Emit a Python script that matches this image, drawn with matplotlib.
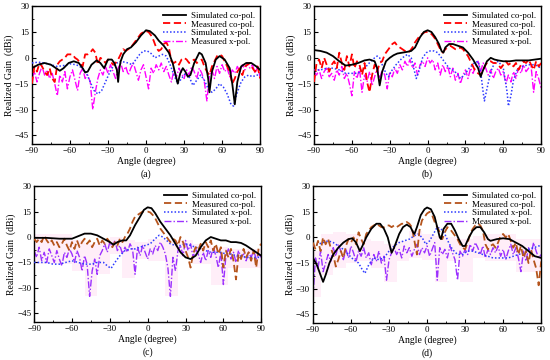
import numpy as np
import matplotlib
matplotlib.use('Agg')
import matplotlib.pyplot as plt
from matplotlib.ticker import MultipleLocator

plt.rcParams['font.family'] = ['Liberation Serif', 'DejaVu Serif']

# measured data sampled every 2 degrees
ang_m = list(range(-90, 91, 2))

# ---------------- panel (a) ----------------
a_sim_co_x = [-90, -85, -80, -75, -71, -68, -65, -61, -57, -53, -50, -48, -46, -43, -39, -36, -33, -30, -27, -25, -23, -22, -21, -20, -18, -15, -12, -8, -4, 0, 3, 7, 10, 14, 16, 18, 21, 23, 25, 27, 29, 31, 33, 35, 38, 42, 44, 47, 49, 50, 52, 55, 58, 62, 66, 68, 70, 72, 75, 79, 83, 87, 90]
a_sim_co_y = [-6, -4, -3, -4, -6, -7.5, -6, -3, -2, -3, -6, -8.5, -8, -4, -1.5, -3, -6, -1, -1, -3, -7, -14, -6, -2, 2, 5, 6, 9, 13, 16, 15.5, 13, 10, 7, 5, 3, -3, -9, -15, -9, -6, -8, -11, -10, -3, 3, 2, -3, -12, -20, -8, -1, 1, -1, -6, -15, -27, -14, -5, -3, -3, -5, -7]
a_meas_co = [-15, -5, -8, -3, -5, -8, -10, -6, -12, -14,
             -4, -2, -1, 0, 2, 2, 2, 0, -1, -3,
             -5, 2, 2, 3, 5, 3, -4, 0, -1, -3,
             -1, -2, -4, -3, -1, 2, 5, 4, 5, 6,
             8, 10, 12, 14, 15, 15.5, 15, 13, 10, 6,
             4, 5, 8, 9, 6, -2, -3, -2, -4, -1,
             0, -1, -3, -2, -1, -3, -2, -1, -5, -8,
             -10, -5, -2, 1, 2, 1, -2, -5, -8, -15,
             -12, -8, -6, -10, -5, -4, -3, -6, -8, -5,
             -12]
a_sim_x_x = [-90, -85, -80, -75, -70, -65, -60, -55, -50, -47, -44, -41, -38, -35, -32, -29, -26, -23, -20, -17, -14, -11, -8, -5, -2, 1, 4, 7, 10, 13, 16, 19, 22, 25, 28, 31, 34, 37, 40, 43, 46, 49, 52, 55, 58, 61, 64, 67, 69, 72, 75, 78, 81, 84, 87, 90]
a_sim_x_y = [-3, -2.5, -3, -4, -5, -4.5, -3.5, -4, -6, -9, -14, -19, -21, -19, -14, -9, -5, -3, -2, -2.5, -3, -4, -1, 2, 4, 4, 2.5, 0, 1, 2, 1, -4, -10, -15, -12, -9, -11, -16, -13, -10, -13, -18, -20, -18, -15, -17, -21, -27, -28, -20, -14, -11, -10, -11, -10, -10]
a_meas_x = [-12, -8, -14, -9, -5, -10, -7, -12, -9, -15, -22, -10, -14, -8, -18, -11, -7, -13, -19, -9, -6, -12, -10, -14, -30, -20, -12, -7, -10, -5, -9, -4, -8, -12, -6, -3, -8, -5, -10, -6, -3, -8, -13, -7, -4, -11, -18, -6, -9, -4, -7, -3, -8, -5, -10, -14, -7, -11, -6, -9, -12, -7, -10, -5, -8, -12, -6, -9, -14, -25, -10, -7, -12, -5, -9, -4, -8, -6, -11, -7, -9, -5, -8, -4, -7, -3, -6, -4, -9, -5, -11]

# ---------------- panel (b) ----------------
b_sim_co_x = [-90, -85, -80, -75, -70, -65, -60, -55, -50, -46, -42, -40, -38, -36, -33, -30, -27, -24, -20, -16, -13, -10, -6, -3, 0, 3, 6, 9, 11, 12.5, 14, 17, 20, 24, 28, 32, 36, 40, 42, 44, 47, 50, 53, 56, 60, 65, 70, 75, 80, 85, 90]
b_sim_co_y = [4.5, 4, 3, 1, -2, -4.5, -4, -3, -1.5, -1, -2, -6, -16, -8, -2, 0, 1.5, 2.5, 3, 3.5, 4, 6, 12, 15, 16, 15, 12, 8, 4, 3, 6, 8, 8, 7, 6, 3, -1, -6, -11, -7, -2, 0, -1, -1.5, -2, -2, -1.5, -1.5, -1.5, -1, -0.5]
b_meas_co = [-14, -3, -1, -6, 0, -4, -8, -4, -2, -6, 3, -3, -7, 1, -5, 2, -6, -2, -4, -10, -3, -14, -20, -10, -4, -8, -3, -2, 2, 4, 6, 8, 9, 7, 6, 5, 4, 3, 4, 6, 9, 11, 13, 14, 15, 15, 14.5, 13, 11, 8, 5, 3, 5, 6, 7, 6, 5, 5, 6, 5, 3, 1, -2, -5, -8, -9, -10, -7, -4, -2, -2, -3, -3, -4, -6, -4, -2, -4, -3, -5, -3, -7, -4, -2, -3, -1, -4, -7, -2, -5, -3]
b_sim_x_x = [-90, -85, -80, -75, -70, -65, -60, -55, -50, -45, -42, -40, -38, -36, -33, -31, -29, -25, -20, -16, -13, -11, -9, -7, -4, -1, 2, 5, 8, 11, 14, 17, 20, 23, 26, 29, 33, 37, 40, 42, 44, 45, 47, 50, 53, 56, 60, 63, 64, 66, 68, 71, 75, 80, 85, 90]
b_sim_x_y = [-7, -7, -6, -6, -7, -9, -9, -9, -6, -2, 0, 1, 0, -4, -9, -11, -8, -4, 0, 2, 0, -6, -12, -8, 0, 3, 4, 4, 3, 0, -3, -6, -7, -9, -12, -10, -6, -3, -2, -8, -20, -25, -18, -8, -3, -2, -6, -20, -28, -22, -13, -7, -5, -4, -4, -6]
b_meas_x = [-8, -10, -7, -12, -8, -6, -11, -9, -13, -7, -10, -5, -12, -9, -15, -22, -8, -12, -6, -20, -10, -14, -8, -16, -11, -6, -12, -7, -10, -18, -8, -11, -6, -9, -4, -7, -2, -5, -1, -6, -3, -10, -4, -2, -5, 0, -3, -1, -7, -3, -10, -4, -8, -5, -11, -6, -13, -9, -15, -10, -7, -12, -6, -9, -5, -2, -8, -3, -6, -10, -7, -12, -8, -6, -10, -8, -15, -10, -14, -8, -12, -6, -9, -4, -8, -6, -5, -20, -8, -12, -18]

# ---------------- panel (c) ----------------
c_sim_co_x = [-90, -80, -70, -60, -55, -50, -45, -40, -35, -30, -27, -24, -20, -17, -14, -10, -6, -3, 0, 3, 6, 10, 14, 18, 22, 26, 30, 34, 38, 42, 46, 50, 54, 58, 62, 66, 70, 74, 78, 82, 86, 90]
c_sim_co_y = [-0.5, -0.5, -1, -1, 0.5, 2, 2, 1, -1, -3, -4.5, -3, -2, -2, 1, 7, 12, 16, 17.5, 17, 14, 9, 5, 1, -4, -9, -12, -13, -11, -6, -2, 0, -1, -2, -2, -3, -3, -3.5, -5, -7, -9, -11]
c_meas_co = [-1, -3, -1, -3, 1, -2, -4, -2, -5, -3, -6, -4, -1, -5, -8, -3, -7, -2, -6, -3, -1, -4, -2, -6, -3, -1, -5, -2, -4, -1, -3, -6, -3, -5, -1, -3, 0, 2, 5, 9, 12, 13, 14, 15, 15, 15, 14.5, 13, 11, 8, 5, 3, 1, -1, -3, -1, -2, -5, 0, -3, -8, -12, -18, -10, -6, -8, -4, -8, -3, -6, -2, -8, -4, -10, -6, -18, -8, -12, -7, -14, -25, -10, -13, -7, -12, -9, -14, -8, -18, -6, -4]
c_sim_x_x = [-90, -85, -80, -75, -70, -65, -60, -55, -50, -45, -40, -35, -32, -29, -26, -22, -18, -14, -10, -6, -2, 2, 6, 9, 12, 15, 18, 22, 26, 30, 34, 38, 42, 46, 50, 54, 58, 62, 66, 70, 74, 78, 82, 86, 90]
c_sim_x_y = [-15, -15, -15, -16, -16, -15, -14, -15, -16, -16, -15, -15, -17, -18.5, -15, -11, -8, -7, -7, -6, -5, -4, -1, 1, 0, -2, -4, -5, -5, -4, -5, -6, -7, -8, -9, -9, -9, -10, -10, -11, -11, -12, -12, -12, -12]
c_meas_x = [-8, -12, -6, -14, -9, -15, -7, -11, -15, -8, -13, -17, -9, -12, -7, -10, -15, -8, -12, -20, -11, -16, -35, -20, -13, -22, -11, -8, -4, -9, -3, -6, -2, -8, -5, -10, -6, -9, -4, -7, -22, -6, -11, -5, -9, -13, -7, -10, -5, -8, -3, -6, -10, -18, -35, -12, -20, -8, -5, -11, -2, -8, -4, -12, -7, -10, -15, -9, -14, -8, -12, -6, -11, -18, -9, -28, -11, -7, -13, -9, -15, -8, -12, -10, -14, -9, -12, -8, -13, -10, -12]
# light pink wash behind measured x-pol: bin edges and limits
c_band_x = [-90, -60, -50, -40, -30, -20, -10, 0, 14, 24, 36, 50, 64, 80, 90]
c_band_lo = [-16, -20, -35, -22, -10, -24, -13, -14, -35, -12, -16, -28, -18, -18]
c_band_hi = [2, -2, -4, -3, 0, -2, -3, -1, -2, -2, -4, -6, -7, -7]

# ---------------- panel (d) ----------------
d_sim_co_x = [-90, -87, -84, -82, -80, -77, -74, -70, -66, -62, -59, -56, -53, -51, -48, -44, -40, -37, -34, -31, -29, -28, -26, -22, -19, -16, -13, -11, -10, -8, -5, -2, 0, 3, 6, 8, 10, 11, 13, 16, 19, 22, 25, 28, 30, 33, 36, 39, 42, 45, 48, 50, 55, 60, 65, 70, 75, 80, 85, 90]
d_sim_co_y = [-12, -16, -22, -26, -22, -15, -10, -6, -3, -1, -0.5, -3, -8, -5, 0, 5, 8, 8, 5, 0, -6, -9, -6, 2, 6, 7.5, 6, 3, 2, 6, 13, 16.5, 17.5, 16.5, 12, 6, 0, -1, 5, 8, 8, 4, -1, -5, -5, 0, 4, 6, 6, 3, -1, -2, -1, -0.5, -1, -3, -5, -8, -11, -12]
d_meas_co = [-3, -7, -2, -8, 0, -4, -1, -6, -10, -17, -13, -8, -12, -5, -1, -3, 0, -4, 3, -1, -4, 2, 4, 6, 7, 8, 7, 6, 6, 7, 7, 6, 7, 6, 7, 8, 8, 9, 8, 6, -2, -10, 4, 10, 12, 14, 15, 13, 9, 6, 3, -1, 3, 6, 5, 3, 1, -1, -4, -6, -7, -3, 2, 5, 7, 8, 7, 4, -4, -7, -5, -4, -6, -3, 1, 2, 0, 2, -2, -6, -3, -10, -5, -12, -8, -15, -7, -13, -18, -28, -14]
d_sim_x_x = [-90, -86, -82, -78, -74, -70, -66, -62, -58, -54, -51, -49, -46, -42, -38, -34, -30, -26, -22, -18, -14, -10, -7, -4, -1, 2, 5, 8, 11, 14, 17, 20, 24, 28, 32, 36, 40, 44, 48, 52, 56, 60, 64, 68, 72, 76, 80, 84, 88, 90]
d_sim_x_y = [-5, -4, -3, -2, -3, -5, -7, -10, -13, -15, -19, -21, -16, -12, -13, -12, -8, -5, -3, -2, -1, 1, 2, 0, -4, -2, 2, 6, 5, 2, -3, -7, -10, -10, -8, -8, -9, -10, -11, -12, -12, -12, -12, -11, -10, -9, -7, -6, -5, -5]
d_meas_x = [-35, -12, -18, -8, -20, -15, -10, -14, -6, -11, -4, -8, -13, -7, -12, -5, -9, -14, -8, -11, -6, -12, -9, -16, -10, -14, -8, -15, -11, -25, -13, -9, -6, -10, -7, -12, -5, -9, -6, -11, -7, -4, -10, -6, -9, -5, -11, -7, -3, -25, -6, -10, -7, -12, -5, -9, -13, -25, -8, -11, -7, -10, -4, -8, -3, -6, -10, -5, -12, -7, -10, -6, -9, -5, -11, -7, -13, -8, -4, -10, -6, -12, -20, -8, -14, -6, -10, -3, -8, -12, -10]
d_band_x = [-90, -84, -74, -64, -54, -44, -34, -24, -14, -4, 6, 16, 26, 36, 46, 56, 70, 80, 90]
d_band_lo = [-35, -22, -18, -15, -14, -18, -26, -14, -12, -13, -26, -14, -26, -12, -14, -14, -20, -20]
d_band_hi = [-8, 2, 3, 2, -1, -2, -4, -2, 4, 2, 1, 0, -1, 1, 2, 2, -1, -1]

sim_co_col = 'black'
sim_x_col = '#2E3BFF'

panels = [
    ('(a)', [0.058, 0.600, 0.415, 0.383], a_sim_co_x, a_sim_co_y, a_meas_co, a_sim_x_x, a_sim_x_y, a_meas_x, '#FF0000', '#FF00FF', None),
    ('(b)', [0.571, 0.600, 0.413, 0.383], b_sim_co_x, b_sim_co_y, b_meas_co, b_sim_x_x, b_sim_x_y, b_meas_x, '#FF0000', '#FF00FF', None),
    ('(c)', [0.062, 0.106, 0.413, 0.377], c_sim_co_x, c_sim_co_y, c_meas_co, c_sim_x_x, c_sim_x_y, c_meas_x, '#B5541C', '#9B30FF', (c_band_x, c_band_lo, c_band_hi)),
    ('(d)', [0.569, 0.103, 0.415, 0.380], d_sim_co_x, d_sim_co_y, d_meas_co, d_sim_x_x, d_sim_x_y, d_meas_x, '#B5541C', '#9B30FF', (d_band_x, d_band_lo, d_band_hi)),
]

fig = plt.figure(figsize=(5.5, 3.6), dpi=100)

for tag, rect, sx, sy, mco, xx, xy, mx, mco_col, mx_col, band in panels:
    ax = fig.add_axes(rect)
    if band is not None:
        bx, lo, hi = band
        ax.fill_between(bx, lo + [lo[-1]], hi + [hi[-1]], step='post', color='#FFEEF8', lw=0, zorder=0)
    ax.plot(sx, sy, color=sim_co_col, lw=1.3, label='Simulated co-pol.', zorder=5)
    ax.plot(ang_m, mco, color=mco_col, lw=1.3, ls=(0, (4, 2)), label='Measured co-pol.', zorder=4)
    ax.plot(xx, xy, color=sim_x_col, lw=1.1, ls=(0, (1, 1.3)), label='Simulated x-pol.', zorder=3)
    ax.plot(ang_m, mx, color=mx_col, lw=1.0, ls=(0, (5, 1.5, 1, 1.5)), label='Measured x-pol.', zorder=2)
    ax.set_xlim(-90, 90)
    ax.set_ylim(-50, 30)
    ax.xaxis.set_major_locator(MultipleLocator(30))
    ax.xaxis.set_minor_locator(MultipleLocator(15))
    ax.set_yticks([-45, -30, -15, 0, 15, 30])
    ax.yaxis.set_minor_locator(MultipleLocator(7.5))
    ax.tick_params(which='both', direction='in', labelsize=6.5, pad=2, top=False, right=False)
    ax.tick_params(which='major', length=3)
    ax.tick_params(which='minor', length=1.5)
    for s in ax.spines.values():
        s.set_linewidth(1.0)
    ax.set_xlabel('Angle (degree)', fontsize=7, labelpad=1)
    ax.set_ylabel('Realized Gain  (dBi)', fontsize=7, labelpad=1)
    ax.legend(loc='upper right', frameon=False, fontsize=6.5, handlelength=2.6,
              labelspacing=0.05, borderaxespad=0.2, handletextpad=0.5)
    cx = rect[0] + rect[2] / 2
    fig.text(cx, rect[1] - 0.085, tag, ha='center', va='center', fontsize=7)

fig.savefig('out.png', dpi=100)
